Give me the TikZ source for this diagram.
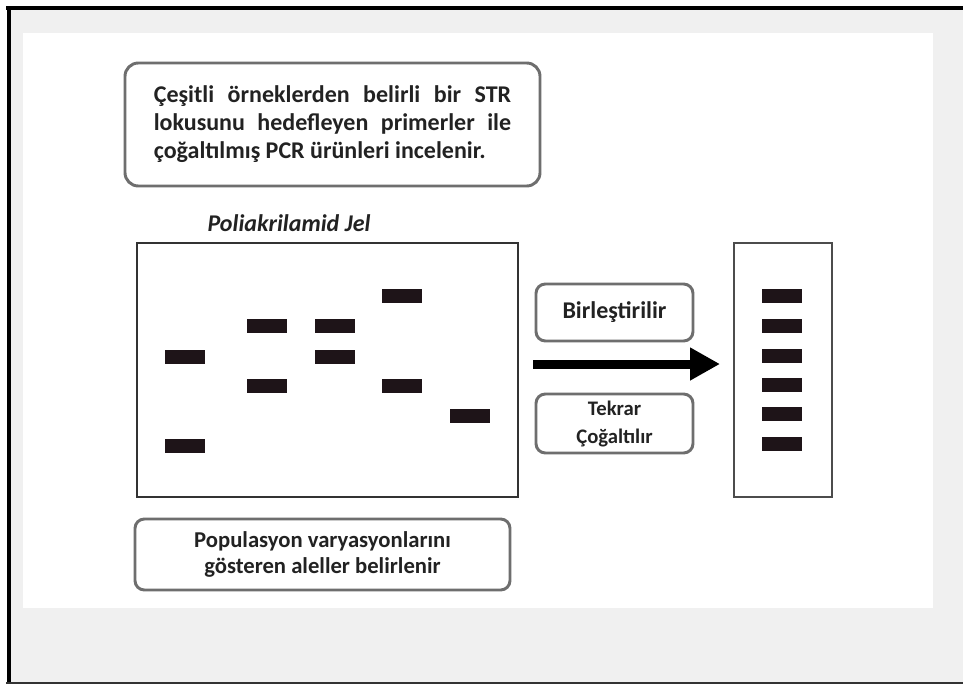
\documentclass[tikz,border=0pt]{standalone}
\usepackage{fontspec}
\setmainfont{Carlito}
\usetikzlibrary{arrows.meta}
\definecolor{panel}{HTML}{F0F0F0}
\definecolor{boxline}{HTML}{6E6E6E}
\definecolor{bandink}{HTML}{1E1418}
\definecolor{ink}{HTML}{222222}

\begin{document}
\begin{tikzpicture}[x=0.75pt, y=-0.75pt, every node/.style={text=ink},
  note/.style={draw=boxline, line width=2.2pt, rounded corners=7pt, fill=white, align=center},
  band/.style={fill=bandink, minimum width=30pt, minimum height=10.5pt, inner sep=0pt}]
  \useasboundingbox (0,0) rectangle (963,686);
  \fill[panel] (9,9) rectangle (963,683);
  \fill[white] (23,33) rectangle (933,608);
  \draw[line width=3pt] (8.5,6) -- (8.5,684);
  \draw[line width=3pt] (6,8) -- (963,8);
  \draw[line width=1.5pt, black!80] (6,683) -- (963,683);

  \node[note, rounded corners=10pt, minimum width=311.25pt, minimum height=92.25pt, text width=268pt, align=justify,
    font=\fontsize{18}{21}\selectfont\bfseries] (locus) at (332.5,124.5)
    {\hyphenpenalty=10000 Çeşitli örneklerden belirli bir STR\linebreak lokusunu hedefleyen primerler ile\linebreak çoğaltılmış PCR ürünleri incelenir.};

  \node[font=\fontsize{18}{21}\selectfont\bfseries\itshape] (geltitle) at (289,223) {Poliakrilamid Jel};
  \node[draw=black!80, line width=1.5pt, minimum width=285.75pt, minimum height=190.5pt] (gel) at (327.5,370) {};
  \node[draw=black!70, line width=1.5pt, minimum width=73.5pt, minimum height=190.5pt] (pool) at (783,370) {};

  \foreach \x/\y [count=\i] in {185/357, 185/446, 267/326, 267/386, 335/326, 335/357, 402/296, 402/386, 470/416}
    \node[band] (b\i) at (\x,\y) {};
  \foreach \y [count=\i] in {296, 326, 356, 385, 414, 444}
    \node[band] (p\i) at (782,\y) {};

  \node[note, minimum width=117.75pt, minimum height=42.75pt, font=\fontsize{18}{21}\selectfont\bfseries] (merge) at (614.5,312.5) {Birleştirilir};
  \node[note, minimum width=117.75pt, minimum height=44.25pt, font=\fontsize{15.5}{21}\selectfont\bfseries] (reamp) at (614.5,423.5) {Tekrar\\Çoğaltılır};
  \draw[line width=6.75pt, -{Triangle[length=22.5pt, width=23.25pt]}, shorten <=10.5pt, shorten >=9.75pt]
    ([yshift=4.5pt]gel.east) -- ([yshift=4.5pt]pool.west);

  \node[note, minimum width=281.25pt, minimum height=53.25pt, font=\fontsize{17}{19.5}\selectfont\bfseries] (alleles) at (322.5,554.5)
    {Populasyon varyasyonlarını\\gösteren aleller belirlenir};
\end{tikzpicture}
\end{document}
